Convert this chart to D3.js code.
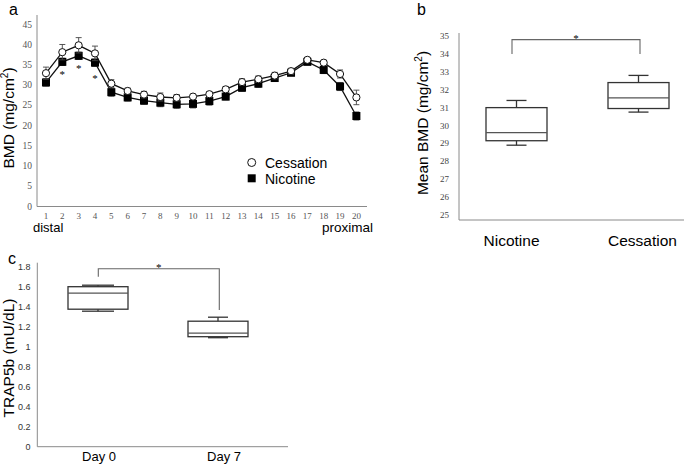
<!DOCTYPE html>
<html>
<head>
<meta charset="utf-8">
<script src="https://cdn.jsdelivr.net/npm/d3@7"></script>
<style>
  body { margin: 0; background: #fff; }
  .sans { font-family: "Liberation Sans", Arial, sans-serif; }
  .serif { font-family: "Liberation Serif", "Times New Roman", serif; }
</style>
</head>
<body>
<script>
// panel a: BMD along the bone, segment 1 (distal) to 20 (proximal)
var segments = [1, 2, 3, 4, 5, 6, 7, 8, 9, 10, 11, 12, 13, 14, 15, 16, 17, 18, 19, 20];
var cessation = [33.0, 38.2, 39.9, 37.9, 30.4, 28.6, 27.7, 27.1, 26.9, 27.2, 27.8, 29.0, 30.8, 31.5, 32.4, 33.5, 36.3, 35.6, 32.8, 27.0];
var cessationErr = [1.5, 1.9, 1.9, 1.8, 1.0, 0.7, 0.8, 1.0, 0.8, 0.6, 0.6, 0.7, 0.8, 0.8, 0.8, 0.7, 0.6, 0.6, 1.0, 1.8];
var nicotine = [30.7, 35.8, 37.3, 35.6, 28.3, 27.0, 26.2, 25.7, 25.3, 25.4, 26.1, 27.2, 29.4, 30.4, 31.8, 33.1, 35.8, 33.8, 29.7, 22.4];
var nicotineErr = [0.9, 0.9, 0.9, 0.9, 1.0, 0.9, 0.9, 1.0, 1.0, 1.0, 1.0, 0.8, 0.9, 0.9, 0.8, 0.7, 0.6, 0.9, 1.0, 1.0];
var starSegments = [2, 3, 4];
var aTicks = [0, 5, 10, 15, 20, 25, 30, 35, 40, 45];

// panel b: mean BMD box plots
var bGroups = ["Nicotine", "Cessation"];
var bMin = [28.9, 30.75];
var bQ1 = [29.15, 30.95];
var bMed = [29.6, 31.55];
var bQ3 = [31.0, 32.4];
var bMax = [31.4, 32.8];
var bTicks = [25, 26, 27, 28, 29, 30, 31, 32, 33, 34, 35];
var bBracket = [34.8, 34.0, 34.0]; // top, left end, right end

// panel c: TRAP5b box plots
var cGroups = ["Day 0", "Day 7"];
var cMin = [1.355, 1.09];
var cQ1 = [1.375, 1.10];
var cMed = [1.535, 1.135];
var cQ3 = [1.60, 1.255];
var cMax = [1.615, 1.295];
var cTicks = [0, 0.2, 0.4, 0.6, 0.8, 1, 1.2, 1.4, 1.6, 1.8];
var cBracket = [1.78, 1.70, 1.367];

var svg = d3.select("body").append("svg")
    .attr("width", 685)
    .attr("height", 464);

var axisColor = "#8a8a8a";

function label(x, y, txt, size) {
    svg.append("text").attr("class", "sans")
        .attr("x", x).attr("y", y)
        .style("font-size", size + "px")
        .text(txt);
}

function yTitle(x, y, parts) {
    var t = svg.append("text").attr("class", "sans")
        .attr("transform", "translate(" + x + "," + y + ") rotate(-90)")
        .attr("text-anchor", "middle")
        .style("font-size", "15.5px");
    t.append("tspan").text(parts[0]);
    if (parts.length > 1) {
        t.append("tspan").attr("dy", -6).style("font-size", "10px").text(parts[1]);
        t.append("tspan").attr("dy", 6).text(parts[2]);
    }
}

//////////////////// panel a
var xA = d3.scaleLinear().domain([0.45, 20.65]).range([37, 367]);
var yA = d3.scaleLinear().domain([0, 47.4]).range([206.5, 15]);

svg.append("line").attr("x1", 37).attr("x2", 37).attr("y1", yA.range()[1]).attr("y2", yA(0))
    .attr("stroke", axisColor);
svg.append("line").attr("x1", 37).attr("x2", 367).attr("y1", yA(0)).attr("y2", yA(0))
    .attr("stroke", axisColor);

svg.selectAll(".aytick").data(aTicks).enter().append("text")
    .attr("class", "serif")
    .attr("x", 32).attr("y", function(d) { return yA(d) + 3; })
    .attr("text-anchor", "end")
    .style("font-size", "9.5px").style("fill", "#555")
    .text(function(d) { return d; });

svg.selectAll(".axtick").data(segments).enter().append("text")
    .attr("class", "serif")
    .attr("x", function(d) { return xA(d); }).attr("y", 218.5)
    .attr("text-anchor", "middle")
    .style("font-size", "9px").style("fill", "#555")
    .text(function(d) { return d; });

label(33, 232, "distal", 13);
svg.append("text").attr("class", "sans").attr("x", 373).attr("y", 232)
    .attr("text-anchor", "end").style("font-size", "13.5px").text("proximal");

yTitle(14, 118, ["BMD (mg/cm", "2", ")"]);
label(9, 14.5, "a", 16);

function series(vals, errs) {
    var pts = segments.map(function(s, i) { return {x: s, y: vals[i], e: errs[i]}; });
    var line = d3.line().x(function(d) { return xA(d.x); }).y(function(d) { return yA(d.y); });
    svg.append("path").attr("d", line(pts))
        .attr("fill", "none").attr("stroke", "#111").attr("stroke-width", 1.3);
    var eb = svg.append("g").attr("stroke", "#444").attr("stroke-width", 0.9);
    pts.forEach(function(d) {
        var cx = xA(d.x);
        eb.append("line").attr("x1", cx).attr("x2", cx).attr("y1", yA(d.y - d.e)).attr("y2", yA(d.y + d.e));
        eb.append("line").attr("x1", cx - 3).attr("x2", cx + 3).attr("y1", yA(d.y + d.e)).attr("y2", yA(d.y + d.e));
        eb.append("line").attr("x1", cx - 3).attr("x2", cx + 3).attr("y1", yA(d.y - d.e)).attr("y2", yA(d.y - d.e));
    });
    return pts;
}

var nicPts = series(nicotine, nicotineErr);
svg.selectAll(".nic").data(nicPts).enter().append("rect")
    .attr("x", function(d) { return xA(d.x) - 4; })
    .attr("y", function(d) { return yA(d.y) - 4; })
    .attr("width", 8).attr("height", 8)
    .attr("fill", "#000");

var cesPts = series(cessation, cessationErr);
svg.selectAll(".ces").data(cesPts).enter().append("circle")
    .attr("cx", function(d) { return xA(d.x); })
    .attr("cy", function(d) { return yA(d.y); })
    .attr("r", 3.6)
    .attr("fill", "#fff").attr("stroke", "#111").attr("stroke-width", 1);

svg.selectAll(".star").data(starSegments).enter().append("text")
    .attr("class", "serif")
    .attr("x", function(d) { return xA(d); })
    .attr("y", function(d) { return yA(nicotine[d - 1]) + 16 + (d == 4 ? 3 : 0); })
    .attr("text-anchor", "middle")
    .style("font-size", "11px").style("fill", "#000")
    .text("*");

// legend
svg.append("circle").attr("cx", 251.7).attr("cy", 162.5).attr("r", 4)
    .attr("fill", "#fff").attr("stroke", "#111").attr("stroke-width", 1);
label(265, 167.5, "Cessation", 14);
svg.append("rect").attr("x", 247.7).attr("y", 174.3).attr("width", 8).attr("height", 8).attr("fill", "#000");
label(265, 183.5, "Nicotine", 14);

//////////////////// box plot helper
function boxPlot(groups, mins, q1s, meds, q3s, maxs, x, y, boxW, capW) {
    groups.forEach(function(g, i) {
        var cx = x(g);
        var gg = svg.append("g").attr("stroke", "#333").attr("stroke-width", 1.3).attr("fill", "none");
        gg.append("line").attr("x1", cx).attr("x2", cx).attr("y1", y(maxs[i])).attr("y2", y(q3s[i]));
        gg.append("line").attr("x1", cx).attr("x2", cx).attr("y1", y(q1s[i])).attr("y2", y(mins[i]));
        gg.append("line").attr("x1", cx - capW[i] / 2).attr("x2", cx + capW[i] / 2).attr("y1", y(maxs[i])).attr("y2", y(maxs[i]));
        gg.append("line").attr("x1", cx - capW[i] / 2).attr("x2", cx + capW[i] / 2).attr("y1", y(mins[i])).attr("y2", y(mins[i]));
        gg.append("rect").attr("x", cx - boxW / 2).attr("y", y(q3s[i]))
            .attr("width", boxW).attr("height", y(q1s[i]) - y(q3s[i]))
            .attr("fill", "#fff");
        gg.append("line").attr("x1", cx - boxW / 2).attr("x2", cx + boxW / 2)
            .attr("y1", y(meds[i])).attr("y2", y(meds[i])).attr("stroke", "#555");
    });
}

function bracket(x1, x2, y, vals, starFont) {
    svg.append("path")
        .attr("d", "M" + x1 + "," + y(vals[1]) + "V" + y(vals[0]) + "H" + x2 + "V" + y(vals[2]))
        .attr("fill", "none").attr("stroke", "#666").attr("stroke-width", 1.1);
    svg.append("text").attr("class", "serif")
        .attr("x", (x1 + x2) / 2).attr("y", y(vals[0]) + 2)
        .attr("text-anchor", "middle").style("font-size", starFont + "px").style("fill", "#000")
        .text("*");
}

//////////////////// panel b
var xB = d3.scalePoint().domain(bGroups).range([516.5, 638.5]);
var yB = d3.scaleLinear().domain([24.72, 35.17]).range([220, 33]);

svg.append("line").attr("x1", 459).attr("x2", 459).attr("y1", 33).attr("y2", 220).attr("stroke", axisColor);
svg.append("line").attr("x1", 459).attr("x2", 684).attr("y1", 220).attr("y2", 220).attr("stroke", axisColor);

svg.selectAll(".bytick").data(bTicks).enter().append("text")
    .attr("class", "serif")
    .attr("x", 449).attr("y", function(d) { return yB(d) + 3; })
    .attr("text-anchor", "end")
    .style("font-size", "9px").style("fill", "#444")
    .text(function(d) { return d; });

boxPlot(bGroups, bMin, bQ1, bMed, bQ3, bMax, xB, yB, 61, [20, 20]);
bracket(512, 640, yB, bBracket, 11);

svg.selectAll(".bxlab").data(bGroups).enter().append("text")
    .attr("class", "sans")
    .attr("x", function(d, i) { return xB(d) + (i == 0 ? -5 : 4); }).attr("y", 246)
    .attr("text-anchor", "middle")
    .style("font-size", "15.5px")
    .text(function(d) { return d; });

yTitle(428, 123, ["Mean BMD (mg/cm", "2", ")"]);
label(417, 14.5, "b", 16);

//////////////////// panel c
var xC = d3.scalePoint().domain(cGroups).range([98, 218]);
var yC = d3.scaleLinear().domain([0, 1.84]).range([446.7, 262.7]);

svg.append("line").attr("x1", 37.3).attr("x2", 37.3).attr("y1", 262.7).attr("y2", 446.7).attr("stroke", axisColor);
svg.append("line").attr("x1", 37.3).attr("x2", 288).attr("y1", 446.7).attr("y2", 446.7).attr("stroke", axisColor);

svg.selectAll(".cytick").data(cTicks).enter().append("text")
    .attr("class", "sans")
    .attr("x", 30.5).attr("y", function(d) { return yC(d) + 3; })
    .attr("text-anchor", "end")
    .style("font-size", "9px").style("fill", "#333")
    .text(function(d) { return d; });

boxPlot(cGroups, cMin, cQ1, cMed, cQ3, cMax, xC, yC, 60, [32, 20]);
bracket(98.3, 219.3, yC, cBracket, 11);

svg.selectAll(".cxlab").data(cGroups).enter().append("text")
    .attr("class", "sans")
    .attr("x", function(d, i) { return xC(d) + (i == 0 ? 1 : 6); }).attr("y", 460.7)
    .attr("text-anchor", "middle")
    .style("font-size", "13px")
    .text(function(d) { return d; });

yTitle(14, 358, ["TRAP5b (mU/dL)"]);
label(8, 264, "c", 16);
</script>
</body>
</html>
